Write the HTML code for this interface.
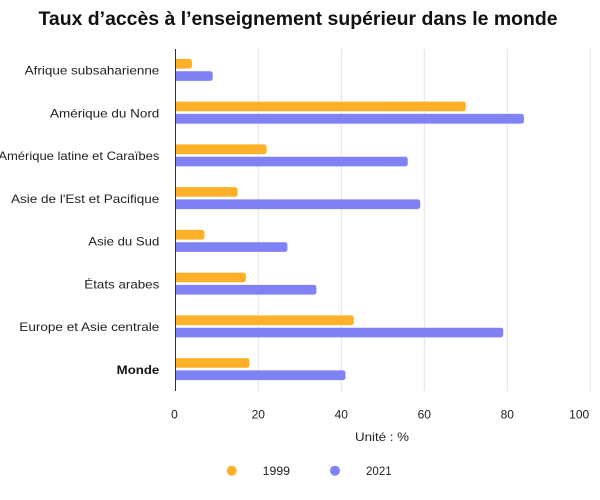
<!DOCTYPE html>
<html><head><meta charset="utf-8"><style>
html,body{margin:0;padding:0;background:#fff;}
svg{display:block;font-family:"Liberation Sans",sans-serif;}
</style></head><body>
<svg width="600" height="500" viewBox="0 0 600 500" xmlns="http://www.w3.org/2000/svg">
<defs><clipPath id="c"><rect x="175.5" y="40" width="420" height="360"/></clipPath></defs>
<rect width="600" height="500" fill="#fff"/>
<text x="298" y="25" text-anchor="middle" font-size="19" font-weight="bold" fill="#111" textLength="519" lengthAdjust="spacingAndGlyphs">Taux d’accès à l’enseignement supérieur dans le monde</text>
<g stroke="#e3e3e3" stroke-width="1">
<line x1="258.3" y1="49" x2="258.3" y2="391"/>
<line x1="341.3" y1="49" x2="341.3" y2="391"/>
<line x1="424.3" y1="49" x2="424.3" y2="391"/>
<line x1="507.3" y1="49" x2="507.3" y2="391"/>
<line x1="590.3" y1="49" x2="590.3" y2="391"/>
</g>
<g clip-path="url(#c)">
<!-- scale: x = 175.3 + v*4.15 ; centers c = 49 + 42.75*(i+0.5) -->
<rect x="170" y="58.9" width="21.9" height="9.7" rx="2.5" fill="#FFB029"/>
<rect x="170" y="71.2" width="42.7" height="9.7" rx="2.5" fill="#7F81F5"/>
<rect x="170" y="101.6" width="295.8" height="9.7" rx="2.5" fill="#FFB029"/>
<rect x="170" y="113.9" width="353.9" height="9.7" rx="2.5" fill="#7F81F5"/>
<rect x="170" y="144.4" width="96.6" height="9.7" rx="2.5" fill="#FFB029"/>
<rect x="170" y="156.7" width="237.7" height="9.7" rx="2.5" fill="#7F81F5"/>
<rect x="170" y="187.1" width="67.6" height="9.7" rx="2.5" fill="#FFB029"/>
<rect x="170" y="199.4" width="250.2" height="9.7" rx="2.5" fill="#7F81F5"/>
<rect x="170" y="229.9" width="34.4" height="9.7" rx="2.5" fill="#FFB029"/>
<rect x="170" y="242.2" width="117.4" height="9.7" rx="2.5" fill="#7F81F5"/>
<rect x="170" y="272.6" width="75.9" height="9.7" rx="2.5" fill="#FFB029"/>
<rect x="170" y="284.9" width="146.4" height="9.7" rx="2.5" fill="#7F81F5"/>
<rect x="170" y="315.4" width="183.8" height="9.7" rx="2.5" fill="#FFB029"/>
<rect x="170" y="327.7" width="333.2" height="9.7" rx="2.5" fill="#7F81F5"/>
<rect x="170" y="358.1" width="79.4" height="9.7" rx="2.5" fill="#FFB029"/>
<rect x="170" y="370.4" width="175.5" height="9.7" rx="2.5" fill="#7F81F5"/>
</g>
<line x1="175.5" y1="49" x2="175.5" y2="391" stroke="#333" stroke-width="1"/>
<g font-size="12" fill="#222" text-anchor="end">
<text x="159.3" y="74.7" textLength="134.6" lengthAdjust="spacingAndGlyphs">Afrique subsaharienne</text>
<text x="159.3" y="117.4" textLength="109.3" lengthAdjust="spacingAndGlyphs">Amérique du Nord</text>
<text x="159.3" y="160.2" textLength="161" lengthAdjust="spacingAndGlyphs">Amérique latine et Caraïbes</text>
<text x="159.3" y="202.9" textLength="148.3" lengthAdjust="spacingAndGlyphs">Asie de l'Est et Pacifique</text>
<text x="159.3" y="245.7" textLength="71" lengthAdjust="spacingAndGlyphs">Asie du Sud</text>
<text x="159.3" y="288.4" textLength="75" lengthAdjust="spacingAndGlyphs">États arabes</text>
<text x="159.3" y="331.2" textLength="140" lengthAdjust="spacingAndGlyphs">Europe et Asie centrale</text>
<text x="159.3" y="373.9" font-weight="bold" fill="#111" textLength="42.6" lengthAdjust="spacingAndGlyphs">Monde</text>
</g>
<g font-size="12" fill="#222" text-anchor="middle">
<text x="174.5" y="418.5">0</text>
<text x="258.3" y="418.5">20</text>
<text x="341.3" y="418.5">40</text>
<text x="424.3" y="418.5">60</text>
<text x="507.3" y="418.5">80</text>
<text x="579.2" y="418.5">100</text>
<text x="382" y="441" textLength="54" lengthAdjust="spacingAndGlyphs">Unité : %</text>
</g>
<circle cx="231.7" cy="470.7" r="5" fill="#FFB029"/>
<circle cx="335" cy="470.7" r="5" fill="#7F81F5"/>
<g font-size="12" fill="#222">
<text x="262.7" y="475" textLength="27.3" lengthAdjust="spacingAndGlyphs">1999</text>
<text x="366" y="475" textLength="25.7" lengthAdjust="spacingAndGlyphs">2021</text>
</g>
</svg>
</body></html>
